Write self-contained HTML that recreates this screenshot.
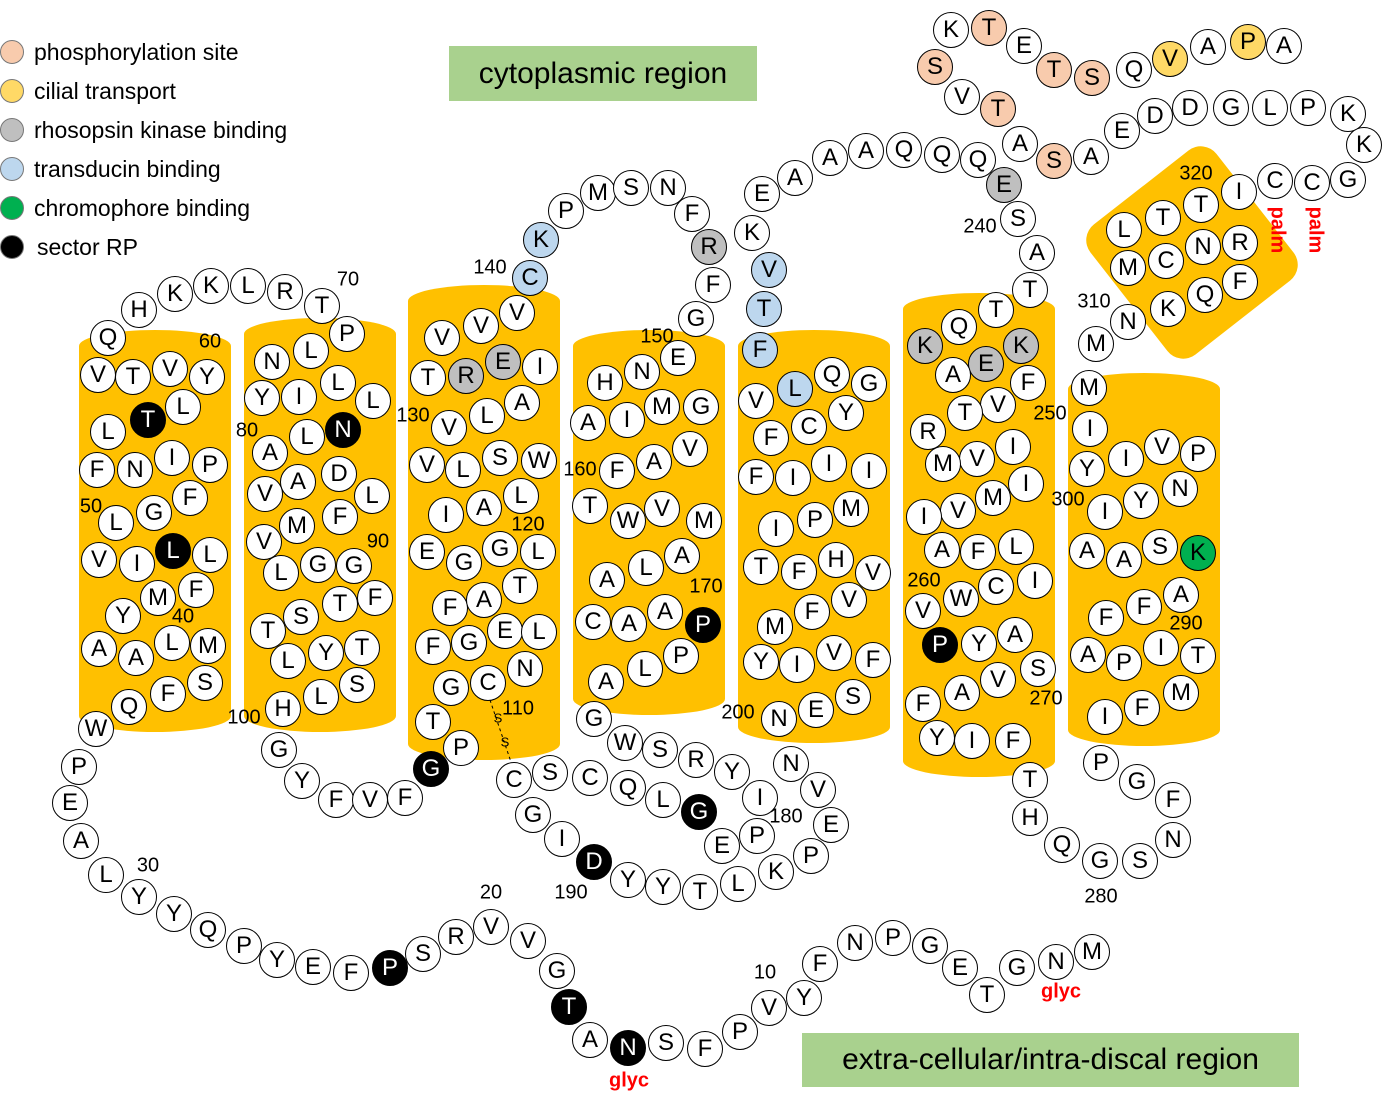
<!DOCTYPE html>
<html><head><meta charset="utf-8"><style>
body{margin:0;width:1392px;height:1108px;background:#fff;position:relative;overflow:hidden;font-family:"Liberation Sans",Arial,sans-serif}
.c{position:absolute;width:34px;height:34px;margin:-18px 0 0 -18px;border-radius:50%;border:1px solid #000;background:#fff;font-size:24px;line-height:34px;text-align:center;color:#000;box-sizing:content-box}
.o{background:#f8cbad}.y{background:#ffd966}.g{background:#bfbfbf}.b{background:#bdd7ee}.G{background:#00b050}.k{background:#000;color:#fff}
.cyl{position:absolute;background:#ffc000;border-radius:76px/16px}
.n{position:absolute;font-size:20px;transform:translate(-50%,-50%)}
.r{position:absolute;color:#f00;font-weight:bold;font-size:20px;transform:translate(-50%,-50%)}
.lg{position:absolute;font-size:23px}
.ld{position:absolute;width:22px;height:22px;border-radius:50%;border:1px solid #777;margin:-12px 0 0 -12px}
.box{position:absolute;background:#a9d18e;font-size:30px;text-align:center}
</style></head><body>
<div class="cyl" style="left:79px;top:330px;width:152px;height:402px"></div>
<div class="cyl" style="left:244px;top:318px;width:152px;height:414px"></div>
<div class="cyl" style="left:408px;top:285px;width:152px;height:475px"></div>
<div class="cyl" style="left:573px;top:330px;width:152px;height:385px"></div>
<div class="cyl" style="left:738px;top:330px;width:152px;height:413px"></div>
<div class="cyl" style="left:903px;top:293px;width:152px;height:484px"></div>
<div class="cyl" style="left:1068px;top:373px;width:152px;height:373px"></div>
<div style="position:absolute;left:1112px;top:170px;width:160px;height:165px;background:#ffc000;border-radius:20px;transform:rotate(-38deg)"></div>
<div class="box" style="left:449px;top:46px;width:308px;height:55px;line-height:55px">cytoplasmic region</div>
<div class="box" style="left:802px;top:1033px;width:497px;height:54px;line-height:54px">extra-cellular/intra-discal region</div>
<div class="ld" style="left:12px;top:52px;background:#f8cbad"></div><div class="lg" style="left:34px;top:39px">phosphorylation site</div>
<div class="ld" style="left:12px;top:91px;background:#ffd966"></div><div class="lg" style="left:34px;top:78px">cilial transport</div>
<div class="ld" style="left:12px;top:130px;background:#bfbfbf"></div><div class="lg" style="left:34px;top:117px">rhosopsin kinase binding</div>
<div class="ld" style="left:12px;top:169px;background:#bdd7ee"></div><div class="lg" style="left:34px;top:156px">transducin binding</div>
<div class="ld" style="left:12px;top:208px;background:#00b050"></div><div class="lg" style="left:34px;top:195px">chromophore binding</div>
<div class="ld" style="left:12px;top:247px;background:#000"></div><div class="lg" style="left:37px;top:234px">sector RP</div>
<svg style="position:absolute;left:0;top:0" width="1392" height="1108"><line x1="490" y1="700" x2="512" y2="765" stroke="#000" stroke-dasharray="3,3"/></svg>
<div class="n" style="left:498px;top:718px;font-size:13px">S</div><div class="n" style="left:505px;top:742px;font-size:13px">S</div>
<div class="n" style="left:210px;top:342px">60</div><div class="n" style="left:91px;top:507px">50</div><div class="n" style="left:183px;top:617px">40</div><div class="n" style="left:348px;top:280px">70</div><div class="n" style="left:148px;top:866px">30</div><div class="n" style="left:491px;top:893px">20</div><div class="n" style="left:765px;top:973px">10</div>
<div class="n" style="left:247px;top:431px">80</div><div class="n" style="left:378px;top:542px">90</div><div class="n" style="left:244px;top:718px">100</div><div class="n" style="left:518px;top:709px">110</div><div class="n" style="left:528px;top:525px">120</div><div class="n" style="left:413px;top:416px">130</div><div class="n" style="left:490px;top:268px">140</div><div class="n" style="left:657px;top:337px">150</div><div class="n" style="left:580px;top:470px">160</div><div class="n" style="left:706px;top:587px">170</div><div class="n" style="left:786px;top:817px">180</div><div class="n" style="left:571px;top:893px">190</div><div class="n" style="left:738px;top:713px">200</div><div class="n" style="left:980px;top:227px">240</div><div class="n" style="left:1050px;top:414px">250</div><div class="n" style="left:924px;top:581px">260</div><div class="n" style="left:1046px;top:699px">270</div><div class="n" style="left:1101px;top:897px">280</div><div class="n" style="left:1186px;top:624px">290</div><div class="n" style="left:1068px;top:500px">300</div><div class="n" style="left:1094px;top:302px">310</div><div class="n" style="left:1196px;top:174px">320</div>
<div class="r" style="left:629px;top:1081px">glyc</div><div class="r" style="left:1061px;top:992px">glyc</div>
<div class="r" style="left:1277px;top:230px;transform:translate(-50%,-50%) rotate(90deg)">palm</div><div class="r" style="left:1315px;top:230px;transform:translate(-50%,-50%) rotate(90deg)">palm</div>
<div class="c" style="left:1092px;top:952px">M</div><div class="c" style="left:1056px;top:962px">N</div><div class="c" style="left:1017px;top:968px">G</div><div class="c" style="left:987px;top:995px">T</div><div class="c" style="left:960px;top:968px">E</div><div class="c" style="left:930px;top:946px">G</div><div class="c" style="left:893px;top:938px">P</div><div class="c" style="left:855px;top:943px">N</div><div class="c" style="left:820px;top:964px">F</div><div class="c" style="left:804px;top:998px">Y</div><div class="c" style="left:769px;top:1008px">V</div><div class="c" style="left:740px;top:1032px">P</div><div class="c" style="left:705px;top:1049px">F</div><div class="c" style="left:666px;top:1043px">S</div><div class="c k" style="left:628px;top:1048px">N</div><div class="c" style="left:590px;top:1040px">A</div><div class="c k" style="left:569px;top:1007px">T</div><div class="c" style="left:557px;top:971px">G</div><div class="c" style="left:528px;top:941px">V</div><div class="c" style="left:491px;top:927px">V</div><div class="c" style="left:456px;top:937px">R</div><div class="c" style="left:423px;top:954px">S</div><div class="c k" style="left:390px;top:968px">P</div><div class="c" style="left:351px;top:973px">F</div><div class="c" style="left:313px;top:967px">E</div><div class="c" style="left:277px;top:960px">Y</div><div class="c" style="left:244px;top:946px">P</div><div class="c" style="left:208px;top:930px">Q</div><div class="c" style="left:174px;top:914px">Y</div><div class="c" style="left:139px;top:897px">Y</div><div class="c" style="left:106px;top:875px">L</div><div class="c" style="left:81px;top:841px">A</div><div class="c" style="left:70px;top:803px">E</div><div class="c" style="left:79px;top:767px">P</div><div class="c" style="left:96px;top:729px">W</div>
<div class="c" style="left:129px;top:707px">Q</div><div class="c" style="left:168px;top:694px">F</div><div class="c" style="left:205px;top:683px">S</div><div class="c" style="left:99px;top:649px">A</div><div class="c" style="left:136px;top:658px">A</div><div class="c" style="left:172px;top:643px">L</div><div class="c" style="left:208px;top:646px">M</div><div class="c" style="left:123px;top:616px">Y</div><div class="c" style="left:158px;top:598px">M</div><div class="c" style="left:196px;top:590px">F</div><div class="c" style="left:99px;top:560px">V</div><div class="c" style="left:137px;top:564px">I</div><div class="c k" style="left:173px;top:551px">L</div><div class="c" style="left:210px;top:555px">L</div><div class="c" style="left:116px;top:523px">L</div><div class="c" style="left:154px;top:513px">G</div><div class="c" style="left:190px;top:498px">F</div><div class="c" style="left:97px;top:470px">F</div><div class="c" style="left:135px;top:470px">N</div><div class="c" style="left:172px;top:458px">I</div><div class="c" style="left:210px;top:465px">P</div><div class="c" style="left:108px;top:432px">L</div><div class="c k" style="left:148px;top:420px">T</div><div class="c" style="left:183px;top:407px">L</div><div class="c" style="left:98px;top:375px">V</div><div class="c" style="left:133px;top:377px">T</div><div class="c" style="left:170px;top:369px">V</div><div class="c" style="left:207px;top:377px">Y</div><div class="c" style="left:108px;top:338px">Q</div><div class="c" style="left:139px;top:310px">H</div><div class="c" style="left:175px;top:294px">K</div><div class="c" style="left:211px;top:286px">K</div><div class="c" style="left:248px;top:286px">L</div><div class="c" style="left:285px;top:292px">R</div><div class="c" style="left:322px;top:306px">T</div><div class="c" style="left:347px;top:334px">P</div>
<div class="c" style="left:272px;top:362px">N</div><div class="c" style="left:311px;top:351px">L</div><div class="c" style="left:338px;top:383px">L</div><div class="c" style="left:373px;top:401px">L</div><div class="c" style="left:262px;top:398px">Y</div><div class="c" style="left:299px;top:397px">I</div><div class="c k" style="left:343px;top:430px">N</div><div class="c" style="left:307px;top:437px">L</div><div class="c" style="left:270px;top:453px">A</div><div class="c" style="left:339px;top:474px">D</div><div class="c" style="left:372px;top:496px">L</div><div class="c" style="left:298px;top:482px">A</div><div class="c" style="left:265px;top:494px">V</div><div class="c" style="left:297px;top:526px">M</div><div class="c" style="left:340px;top:517px">F</div><div class="c" style="left:264px;top:542px">V</div><div class="c" style="left:281px;top:573px">L</div><div class="c" style="left:318px;top:565px">G</div><div class="c" style="left:354px;top:566px">G</div><div class="c" style="left:301px;top:617px">S</div><div class="c" style="left:340px;top:604px">T</div><div class="c" style="left:375px;top:598px">F</div><div class="c" style="left:268px;top:631px">T</div><div class="c" style="left:288px;top:661px">L</div><div class="c" style="left:326px;top:653px">Y</div><div class="c" style="left:362px;top:648px">T</div><div class="c" style="left:321px;top:697px">L</div><div class="c" style="left:357px;top:685px">S</div><div class="c" style="left:283px;top:709px">H</div><div class="c" style="left:279px;top:750px">G</div><div class="c" style="left:302px;top:781px">Y</div><div class="c" style="left:336px;top:800px">F</div><div class="c" style="left:370px;top:800px">V</div><div class="c" style="left:405px;top:798px">F</div><div class="c k" style="left:431px;top:769px">G</div><div class="c" style="left:461px;top:748px">P</div><div class="c" style="left:433px;top:722px">T</div>
<div class="c" style="left:442px;top:338px">V</div><div class="c" style="left:481px;top:326px">V</div><div class="c" style="left:517px;top:313px">V</div><div class="c" style="left:428px;top:378px">T</div><div class="c g" style="left:466px;top:376px">R</div><div class="c g" style="left:503px;top:362px">E</div><div class="c" style="left:540px;top:367px">I</div><div class="c" style="left:449px;top:428px">V</div><div class="c" style="left:487px;top:416px">L</div><div class="c" style="left:522px;top:403px">A</div><div class="c" style="left:427px;top:465px">V</div><div class="c" style="left:463px;top:470px">L</div><div class="c" style="left:500px;top:458px">S</div><div class="c" style="left:539px;top:461px">W</div><div class="c" style="left:446px;top:515px">I</div><div class="c" style="left:484px;top:508px">A</div><div class="c" style="left:521px;top:496px">L</div><div class="c" style="left:427px;top:552px">E</div><div class="c" style="left:464px;top:563px">G</div><div class="c" style="left:500px;top:549px">G</div><div class="c" style="left:538px;top:552px">L</div><div class="c" style="left:450px;top:608px">F</div><div class="c" style="left:484px;top:600px">A</div><div class="c" style="left:520px;top:586px">T</div><div class="c" style="left:433px;top:647px">F</div><div class="c" style="left:469px;top:643px">G</div><div class="c" style="left:505px;top:631px">E</div><div class="c" style="left:539px;top:632px">L</div><div class="c" style="left:451px;top:688px">G</div><div class="c" style="left:488px;top:683px">C</div><div class="c" style="left:525px;top:669px">N</div>
<div class="c b" style="left:530px;top:278px">C</div><div class="c b" style="left:541px;top:240px">K</div><div class="c" style="left:566px;top:211px">P</div><div class="c" style="left:598px;top:193px">M</div><div class="c" style="left:631px;top:188px">S</div><div class="c" style="left:668px;top:188px">N</div><div class="c" style="left:692px;top:214px">F</div><div class="c g" style="left:709px;top:247px">R</div><div class="c" style="left:713px;top:285px">F</div><div class="c" style="left:696px;top:319px">G</div>
<div class="c" style="left:678px;top:358px">E</div><div class="c" style="left:642px;top:372px">N</div><div class="c" style="left:605px;top:383px">H</div><div class="c" style="left:588px;top:423px">A</div><div class="c" style="left:627px;top:420px">I</div><div class="c" style="left:662px;top:407px">M</div><div class="c" style="left:701px;top:407px">G</div><div class="c" style="left:617px;top:471px">F</div><div class="c" style="left:654px;top:462px">A</div><div class="c" style="left:690px;top:449px">V</div><div class="c" style="left:590px;top:506px">T</div><div class="c" style="left:628px;top:521px">W</div><div class="c" style="left:662px;top:509px">V</div><div class="c" style="left:704px;top:521px">M</div><div class="c" style="left:607px;top:580px">A</div><div class="c" style="left:646px;top:568px">L</div><div class="c" style="left:682px;top:556px">A</div><div class="c" style="left:593px;top:622px">C</div><div class="c" style="left:629px;top:624px">A</div><div class="c" style="left:665px;top:612px">A</div><div class="c k" style="left:703px;top:625px">P</div><div class="c" style="left:606px;top:682px">A</div><div class="c" style="left:645px;top:669px">L</div><div class="c" style="left:681px;top:656px">P</div>
<div class="c" style="left:594px;top:719px">G</div><div class="c" style="left:625px;top:743px">W</div><div class="c" style="left:660px;top:750px">S</div><div class="c" style="left:696px;top:760px">R</div><div class="c" style="left:732px;top:772px">Y</div><div class="c" style="left:760px;top:798px">I</div><div class="c" style="left:757px;top:836px">P</div><div class="c" style="left:722px;top:846px">E</div>
<div class="c" style="left:514px;top:780px">C</div><div class="c" style="left:550px;top:773px">S</div><div class="c" style="left:590px;top:778px">C</div><div class="c" style="left:628px;top:788px">Q</div><div class="c" style="left:663px;top:800px">L</div><div class="c k" style="left:699px;top:812px">G</div><div class="c" style="left:533px;top:815px">G</div><div class="c" style="left:562px;top:839px">I</div><div class="c k" style="left:594px;top:862px">D</div><div class="c" style="left:628px;top:880px">Y</div><div class="c" style="left:663px;top:887px">Y</div><div class="c" style="left:700px;top:892px">T</div><div class="c" style="left:738px;top:884px">L</div><div class="c" style="left:776px;top:872px">K</div><div class="c" style="left:811px;top:856px">P</div><div class="c" style="left:831px;top:825px">E</div><div class="c" style="left:818px;top:790px">V</div><div class="c" style="left:791px;top:764px">N</div>
<div class="c" style="left:752px;top:233px">K</div><div class="c b" style="left:769px;top:270px">V</div><div class="c" style="left:762px;top:194px">E</div><div class="c" style="left:795px;top:178px">A</div><div class="c" style="left:830px;top:158px">A</div><div class="c" style="left:866px;top:151px">A</div><div class="c" style="left:904px;top:150px">Q</div><div class="c" style="left:942px;top:155px">Q</div><div class="c" style="left:978px;top:160px">Q</div><div class="c b" style="left:764px;top:309px">T</div><div class="c b" style="left:760px;top:350px">F</div><div class="c" style="left:832px;top:375px">Q</div><div class="c" style="left:869px;top:384px">G</div><div class="c" style="left:756px;top:401px">V</div><div class="c b" style="left:795px;top:389px">L</div><div class="c" style="left:846px;top:413px">Y</div><div class="c" style="left:809px;top:427px">C</div><div class="c" style="left:771px;top:438px">F</div><div class="c" style="left:829px;top:464px">I</div><div class="c" style="left:869px;top:471px">I</div><div class="c" style="left:756px;top:477px">F</div><div class="c" style="left:793px;top:478px">I</div><div class="c" style="left:851px;top:509px">M</div><div class="c" style="left:776px;top:529px">I</div><div class="c" style="left:815px;top:520px">P</div><div class="c" style="left:761px;top:567px">T</div><div class="c" style="left:799px;top:572px">F</div><div class="c" style="left:836px;top:560px">H</div><div class="c" style="left:873px;top:573px">V</div><div class="c" style="left:812px;top:612px">F</div><div class="c" style="left:849px;top:600px">V</div><div class="c" style="left:775px;top:627px">M</div><div class="c" style="left:761px;top:662px">Y</div><div class="c" style="left:797px;top:665px">I</div><div class="c" style="left:834px;top:653px">V</div><div class="c" style="left:873px;top:660px">F</div><div class="c" style="left:779px;top:719px">N</div><div class="c" style="left:816px;top:710px">E</div><div class="c" style="left:853px;top:697px">S</div>
<div class="c o" style="left:1054px;top:161px">S</div><div class="c" style="left:1091px;top:157px">A</div><div class="c" style="left:1122px;top:131px">E</div><div class="c" style="left:1155px;top:116px">D</div><div class="c" style="left:1190px;top:108px">D</div><div class="c" style="left:1231px;top:108px">G</div><div class="c" style="left:1270px;top:108px">L</div><div class="c" style="left:1308px;top:108px">P</div><div class="c" style="left:1348px;top:114px">K</div><div class="c" style="left:1364px;top:145px">K</div><div class="c" style="left:1348px;top:180px">G</div><div class="c" style="left:1312px;top:183px">C</div><div class="c" style="left:1275px;top:181px">C</div><div class="c" style="left:1020px;top:144px">A</div><div class="c o" style="left:998px;top:109px">T</div><div class="c" style="left:962px;top:97px">V</div><div class="c o" style="left:935px;top:67px">S</div><div class="c" style="left:951px;top:30px">K</div><div class="c o" style="left:989px;top:28px">T</div><div class="c" style="left:1024px;top:46px">E</div><div class="c o" style="left:1054px;top:70px">T</div><div class="c o" style="left:1092px;top:78px">S</div><div class="c" style="left:1134px;top:70px">Q</div><div class="c y" style="left:1170px;top:59px">V</div><div class="c" style="left:1208px;top:47px">A</div><div class="c y" style="left:1248px;top:42px">P</div><div class="c" style="left:1284px;top:46px">A</div>
<div class="c g" style="left:1004px;top:185px">E</div><div class="c" style="left:1018px;top:219px">S</div><div class="c" style="left:1037px;top:253px">A</div><div class="c" style="left:1030px;top:290px">T</div>
<div class="c" style="left:996px;top:310px">T</div><div class="c" style="left:959px;top:327px">Q</div><div class="c g" style="left:925px;top:346px">K</div><div class="c g" style="left:1021px;top:346px">K</div><div class="c g" style="left:986px;top:364px">E</div><div class="c" style="left:953px;top:375px">A</div><div class="c" style="left:1028px;top:383px">F</div><div class="c" style="left:998px;top:405px">V</div><div class="c" style="left:965px;top:413px">T</div><div class="c" style="left:928px;top:432px">R</div><div class="c" style="left:1013px;top:447px">I</div><div class="c" style="left:977px;top:459px">V</div><div class="c" style="left:943px;top:464px">M</div><div class="c" style="left:1026px;top:484px">I</div><div class="c" style="left:993px;top:498px">M</div><div class="c" style="left:958px;top:511px">V</div><div class="c" style="left:924px;top:517px">I</div><div class="c" style="left:1016px;top:547px">L</div><div class="c" style="left:978px;top:552px">F</div><div class="c" style="left:942px;top:550px">A</div><div class="c" style="left:996px;top:587px">C</div><div class="c" style="left:1035px;top:581px">I</div><div class="c" style="left:961px;top:599px">W</div><div class="c" style="left:923px;top:611px">V</div><div class="c" style="left:1015px;top:635px">A</div><div class="c" style="left:979px;top:644px">Y</div><div class="c k" style="left:940px;top:645px">P</div><div class="c" style="left:1038px;top:669px">S</div><div class="c" style="left:998px;top:680px">V</div><div class="c" style="left:962px;top:693px">A</div><div class="c" style="left:923px;top:704px">F</div><div class="c" style="left:1013px;top:741px">F</div><div class="c" style="left:972px;top:741px">I</div><div class="c" style="left:937px;top:738px">Y</div><div class="c" style="left:1030px;top:780px">T</div><div class="c" style="left:1030px;top:818px">H</div><div class="c" style="left:1062px;top:845px">Q</div><div class="c" style="left:1100px;top:861px">G</div><div class="c" style="left:1140px;top:861px">S</div><div class="c" style="left:1173px;top:840px">N</div><div class="c" style="left:1173px;top:800px">F</div><div class="c" style="left:1137px;top:782px">G</div><div class="c" style="left:1101px;top:763px">P</div>
<div class="c" style="left:1096px;top:344px">M</div><div class="c" style="left:1089px;top:388px">M</div><div class="c" style="left:1090px;top:429px">I</div><div class="c" style="left:1087px;top:469px">Y</div><div class="c" style="left:1126px;top:459px">I</div><div class="c" style="left:1162px;top:447px">V</div><div class="c" style="left:1198px;top:454px">P</div><div class="c" style="left:1105px;top:512px">I</div><div class="c" style="left:1141px;top:501px">Y</div><div class="c" style="left:1180px;top:489px">N</div><div class="c" style="left:1087px;top:551px">A</div><div class="c" style="left:1124px;top:560px">A</div><div class="c" style="left:1160px;top:547px">S</div><div class="c G" style="left:1198px;top:553px">K</div><div class="c" style="left:1106px;top:618px">F</div><div class="c" style="left:1144px;top:607px">F</div><div class="c" style="left:1181px;top:595px">A</div><div class="c" style="left:1088px;top:655px">A</div><div class="c" style="left:1124px;top:663px">P</div><div class="c" style="left:1161px;top:648px">I</div><div class="c" style="left:1198px;top:656px">T</div><div class="c" style="left:1105px;top:717px">I</div><div class="c" style="left:1142px;top:708px">F</div><div class="c" style="left:1181px;top:693px">M</div>
<div class="c" style="left:1128px;top:322px">N</div><div class="c" style="left:1168px;top:309px">K</div><div class="c" style="left:1205px;top:295px">Q</div><div class="c" style="left:1240px;top:282px">F</div><div class="c" style="left:1128px;top:268px">M</div><div class="c" style="left:1166px;top:261px">C</div><div class="c" style="left:1203px;top:247px">N</div><div class="c" style="left:1240px;top:243px">R</div><div class="c" style="left:1124px;top:230px">L</div><div class="c" style="left:1163px;top:218px">T</div><div class="c" style="left:1201px;top:205px">T</div><div class="c" style="left:1239px;top:192px">I</div>
</body></html>
